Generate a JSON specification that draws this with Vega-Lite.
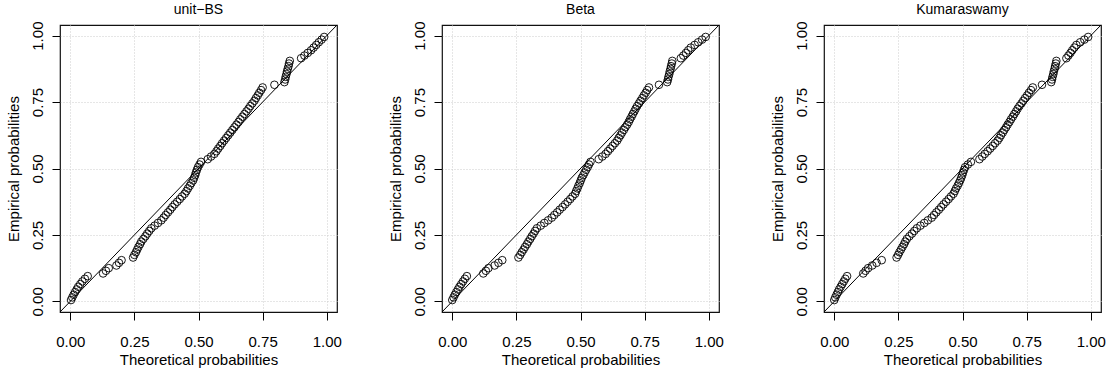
{
  "$schema": "https://vega.github.io/schema/vega-lite/v6.json",
  "background": "white",
  "padding": {"left": 5, "top": 2, "right": 5, "bottom": 5},
  "bounds": "flush",
  "spacing": 105,
  "datasets": {
    "diag": [{"x": -0.04, "y": -0.04, "x2": 1.04, "y2": 1.04}],
    "pp": [
      {"m":"u","t":0.003,"e":0.005},{"m":"u","t":0.008,"e":0.015},{"m":"u","t":0.013,"e":0.025},{"m":"u","t":0.019,"e":0.035},{"m":"u","t":0.025,"e":0.045},
      {"m":"u","t":0.031,"e":0.055},{"m":"u","t":0.039,"e":0.065},{"m":"u","t":0.047,"e":0.075},{"m":"u","t":0.057,"e":0.085},{"m":"u","t":0.068,"e":0.095},
      {"m":"u","t":0.128,"e":0.105},{"m":"u","t":0.139,"e":0.115},{"m":"u","t":0.150,"e":0.125},{"m":"u","t":0.180,"e":0.135},{"m":"u","t":0.190,"e":0.145},
      {"m":"u","t":0.200,"e":0.155},{"m":"u","t":0.245,"e":0.165},{"m":"u","t":0.250,"e":0.175},{"m":"u","t":0.256,"e":0.185},{"m":"u","t":0.261,"e":0.195},
      {"m":"u","t":0.266,"e":0.205},{"m":"u","t":0.272,"e":0.215},{"m":"u","t":0.277,"e":0.225},{"m":"u","t":0.285,"e":0.235},{"m":"u","t":0.293,"e":0.245},
      {"m":"u","t":0.300,"e":0.255},{"m":"u","t":0.308,"e":0.265},{"m":"u","t":0.316,"e":0.275},{"m":"u","t":0.329,"e":0.285},{"m":"u","t":0.342,"e":0.295},
      {"m":"u","t":0.355,"e":0.305},{"m":"u","t":0.364,"e":0.315},{"m":"u","t":0.372,"e":0.325},{"m":"u","t":0.381,"e":0.335},{"m":"u","t":0.390,"e":0.345},
      {"m":"u","t":0.398,"e":0.355},{"m":"u","t":0.407,"e":0.365},{"m":"u","t":0.417,"e":0.375},{"m":"u","t":0.427,"e":0.385},{"m":"u","t":0.436,"e":0.395},
      {"m":"u","t":0.446,"e":0.405},{"m":"u","t":0.453,"e":0.415},{"m":"u","t":0.459,"e":0.425},{"m":"u","t":0.466,"e":0.435},{"m":"u","t":0.472,"e":0.445},
      {"m":"u","t":0.479,"e":0.455},{"m":"u","t":0.483,"e":0.465},{"m":"u","t":0.487,"e":0.475},{"m":"u","t":0.490,"e":0.485},{"m":"u","t":0.494,"e":0.495},
      {"m":"u","t":0.498,"e":0.505},{"m":"u","t":0.504,"e":0.515},{"m":"u","t":0.510,"e":0.525},{"m":"u","t":0.536,"e":0.535},{"m":"u","t":0.549,"e":0.545},
      {"m":"u","t":0.562,"e":0.555},{"m":"u","t":0.570,"e":0.565},{"m":"u","t":0.577,"e":0.575},{"m":"u","t":0.585,"e":0.585},{"m":"u","t":0.592,"e":0.595},
      {"m":"u","t":0.600,"e":0.605},{"m":"u","t":0.608,"e":0.615},{"m":"u","t":0.616,"e":0.625},{"m":"u","t":0.624,"e":0.635},{"m":"u","t":0.632,"e":0.645},
      {"m":"u","t":0.640,"e":0.655},{"m":"u","t":0.648,"e":0.665},{"m":"u","t":0.656,"e":0.675},{"m":"u","t":0.663,"e":0.685},{"m":"u","t":0.671,"e":0.695},
      {"m":"u","t":0.679,"e":0.705},{"m":"u","t":0.687,"e":0.715},{"m":"u","t":0.695,"e":0.725},{"m":"u","t":0.702,"e":0.735},{"m":"u","t":0.710,"e":0.745},
      {"m":"u","t":0.718,"e":0.755},{"m":"u","t":0.724,"e":0.765},{"m":"u","t":0.731,"e":0.775},{"m":"u","t":0.737,"e":0.785},{"m":"u","t":0.744,"e":0.795},
      {"m":"u","t":0.750,"e":0.805},{"m":"u","t":0.796,"e":0.815},{"m":"u","t":0.835,"e":0.825},{"m":"u","t":0.838,"e":0.835},{"m":"u","t":0.840,"e":0.845},
      {"m":"u","t":0.843,"e":0.855},{"m":"u","t":0.845,"e":0.865},{"m":"u","t":0.848,"e":0.875},{"m":"u","t":0.851,"e":0.885},{"m":"u","t":0.853,"e":0.895},
      {"m":"u","t":0.856,"e":0.905},{"m":"u","t":0.900,"e":0.915},{"m":"u","t":0.913,"e":0.925},{"m":"u","t":0.926,"e":0.935},{"m":"u","t":0.939,"e":0.945},
      {"m":"u","t":0.949,"e":0.955},{"m":"u","t":0.959,"e":0.965},{"m":"u","t":0.969,"e":0.975},{"m":"u","t":0.980,"e":0.985},{"m":"u","t":0.990,"e":0.995},

      {"m":"b","t":0.000,"e":0.005},{"m":"b","t":0.005,"e":0.015},{"m":"b","t":0.010,"e":0.025},{"m":"b","t":0.016,"e":0.035},{"m":"b","t":0.022,"e":0.045},
      {"m":"b","t":0.028,"e":0.055},{"m":"b","t":0.035,"e":0.065},{"m":"b","t":0.042,"e":0.075},{"m":"b","t":0.049,"e":0.085},{"m":"b","t":0.057,"e":0.095},
      {"m":"b","t":0.121,"e":0.105},{"m":"b","t":0.131,"e":0.115},{"m":"b","t":0.141,"e":0.125},{"m":"b","t":0.165,"e":0.135},{"m":"b","t":0.180,"e":0.145},
      {"m":"b","t":0.195,"e":0.155},{"m":"b","t":0.258,"e":0.165},{"m":"b","t":0.265,"e":0.175},{"m":"b","t":0.271,"e":0.185},{"m":"b","t":0.278,"e":0.195},
      {"m":"b","t":0.284,"e":0.205},{"m":"b","t":0.291,"e":0.215},{"m":"b","t":0.297,"e":0.225},{"m":"b","t":0.304,"e":0.235},{"m":"b","t":0.310,"e":0.245},
      {"m":"b","t":0.317,"e":0.255},{"m":"b","t":0.323,"e":0.265},{"m":"b","t":0.330,"e":0.275},{"m":"b","t":0.345,"e":0.285},{"m":"b","t":0.359,"e":0.295},
      {"m":"b","t":0.374,"e":0.305},{"m":"b","t":0.388,"e":0.315},{"m":"b","t":0.398,"e":0.325},{"m":"b","t":0.409,"e":0.335},{"m":"b","t":0.419,"e":0.345},
      {"m":"b","t":0.430,"e":0.355},{"m":"b","t":0.440,"e":0.365},{"m":"b","t":0.450,"e":0.375},{"m":"b","t":0.460,"e":0.385},{"m":"b","t":0.469,"e":0.395},
      {"m":"b","t":0.479,"e":0.405},{"m":"b","t":0.483,"e":0.415},{"m":"b","t":0.488,"e":0.425},{"m":"b","t":0.492,"e":0.435},{"m":"b","t":0.497,"e":0.445},
      {"m":"b","t":0.501,"e":0.455},{"m":"b","t":0.505,"e":0.465},{"m":"b","t":0.511,"e":0.475},{"m":"b","t":0.516,"e":0.485},{"m":"b","t":0.522,"e":0.495},
      {"m":"b","t":0.528,"e":0.505},{"m":"b","t":0.533,"e":0.515},{"m":"b","t":0.539,"e":0.525},{"m":"b","t":0.571,"e":0.535},{"m":"b","t":0.585,"e":0.545},
      {"m":"b","t":0.598,"e":0.555},{"m":"b","t":0.607,"e":0.565},{"m":"b","t":0.616,"e":0.575},{"m":"b","t":0.625,"e":0.585},{"m":"b","t":0.634,"e":0.595},
      {"m":"b","t":0.643,"e":0.605},{"m":"b","t":0.649,"e":0.615},{"m":"b","t":0.656,"e":0.625},{"m":"b","t":0.662,"e":0.635},{"m":"b","t":0.669,"e":0.645},
      {"m":"b","t":0.675,"e":0.655},{"m":"b","t":0.682,"e":0.665},{"m":"b","t":0.688,"e":0.675},{"m":"b","t":0.693,"e":0.685},{"m":"b","t":0.699,"e":0.695},
      {"m":"b","t":0.704,"e":0.705},{"m":"b","t":0.710,"e":0.715},{"m":"b","t":0.715,"e":0.725},{"m":"b","t":0.721,"e":0.735},{"m":"b","t":0.728,"e":0.745},
      {"m":"b","t":0.734,"e":0.755},{"m":"b","t":0.741,"e":0.765},{"m":"b","t":0.747,"e":0.775},{"m":"b","t":0.754,"e":0.785},{"m":"b","t":0.760,"e":0.795},
      {"m":"b","t":0.767,"e":0.805},{"m":"b","t":0.806,"e":0.815},{"m":"b","t":0.838,"e":0.825},{"m":"b","t":0.841,"e":0.835},{"m":"b","t":0.843,"e":0.845},
      {"m":"b","t":0.846,"e":0.855},{"m":"b","t":0.848,"e":0.865},{"m":"b","t":0.851,"e":0.875},{"m":"b","t":0.853,"e":0.885},{"m":"b","t":0.856,"e":0.895},
      {"m":"b","t":0.858,"e":0.905},{"m":"b","t":0.891,"e":0.915},{"m":"b","t":0.901,"e":0.925},{"m":"b","t":0.911,"e":0.935},{"m":"b","t":0.920,"e":0.945},
      {"m":"b","t":0.930,"e":0.955},{"m":"b","t":0.945,"e":0.965},{"m":"b","t":0.959,"e":0.975},{"m":"b","t":0.974,"e":0.985},{"m":"b","t":0.988,"e":0.995},

      {"m":"k","t":0.000,"e":0.005},{"m":"k","t":0.004,"e":0.015},{"m":"k","t":0.009,"e":0.025},{"m":"k","t":0.014,"e":0.035},{"m":"k","t":0.019,"e":0.045},
      {"m":"k","t":0.025,"e":0.055},{"m":"k","t":0.031,"e":0.065},{"m":"k","t":0.037,"e":0.075},{"m":"k","t":0.043,"e":0.085},{"m":"k","t":0.050,"e":0.095},
      {"m":"k","t":0.113,"e":0.105},{"m":"k","t":0.122,"e":0.115},{"m":"k","t":0.132,"e":0.125},{"m":"k","t":0.148,"e":0.135},{"m":"k","t":0.165,"e":0.145},
      {"m":"k","t":0.185,"e":0.155},{"m":"k","t":0.243,"e":0.165},{"m":"k","t":0.249,"e":0.175},{"m":"k","t":0.254,"e":0.185},{"m":"k","t":0.260,"e":0.195},
      {"m":"k","t":0.266,"e":0.205},{"m":"k","t":0.272,"e":0.215},{"m":"k","t":0.277,"e":0.225},{"m":"k","t":0.283,"e":0.235},{"m":"k","t":0.293,"e":0.245},
      {"m":"k","t":0.303,"e":0.255},{"m":"k","t":0.312,"e":0.265},{"m":"k","t":0.322,"e":0.275},{"m":"k","t":0.336,"e":0.285},{"m":"k","t":0.351,"e":0.295},
      {"m":"k","t":0.365,"e":0.305},{"m":"k","t":0.380,"e":0.315},{"m":"k","t":0.389,"e":0.325},{"m":"k","t":0.398,"e":0.335},{"m":"k","t":0.408,"e":0.345},
      {"m":"k","t":0.417,"e":0.355},{"m":"k","t":0.426,"e":0.365},{"m":"k","t":0.436,"e":0.375},{"m":"k","t":0.446,"e":0.385},{"m":"k","t":0.455,"e":0.395},
      {"m":"k","t":0.465,"e":0.405},{"m":"k","t":0.470,"e":0.415},{"m":"k","t":0.475,"e":0.425},{"m":"k","t":0.481,"e":0.435},{"m":"k","t":0.486,"e":0.445},
      {"m":"k","t":0.491,"e":0.455},{"m":"k","t":0.495,"e":0.465},{"m":"k","t":0.499,"e":0.475},{"m":"k","t":0.502,"e":0.485},{"m":"k","t":0.506,"e":0.495},
      {"m":"k","t":0.510,"e":0.505},{"m":"k","t":0.521,"e":0.515},{"m":"k","t":0.533,"e":0.525},{"m":"k","t":0.566,"e":0.535},{"m":"k","t":0.577,"e":0.545},
      {"m":"k","t":0.587,"e":0.555},{"m":"k","t":0.598,"e":0.565},{"m":"k","t":0.608,"e":0.575},{"m":"k","t":0.618,"e":0.585},{"m":"k","t":0.627,"e":0.595},
      {"m":"k","t":0.637,"e":0.605},{"m":"k","t":0.644,"e":0.615},{"m":"k","t":0.650,"e":0.625},{"m":"k","t":0.657,"e":0.635},{"m":"k","t":0.663,"e":0.645},
      {"m":"k","t":0.670,"e":0.655},{"m":"k","t":0.676,"e":0.665},{"m":"k","t":0.683,"e":0.675},{"m":"k","t":0.689,"e":0.685},{"m":"k","t":0.696,"e":0.695},
      {"m":"k","t":0.702,"e":0.705},{"m":"k","t":0.709,"e":0.715},{"m":"k","t":0.715,"e":0.725},{"m":"k","t":0.722,"e":0.735},{"m":"k","t":0.730,"e":0.745},
      {"m":"k","t":0.737,"e":0.755},{"m":"k","t":0.744,"e":0.765},{"m":"k","t":0.752,"e":0.775},{"m":"k","t":0.759,"e":0.785},{"m":"k","t":0.767,"e":0.795},
      {"m":"k","t":0.774,"e":0.805},{"m":"k","t":0.810,"e":0.815},{"m":"k","t":0.846,"e":0.825},{"m":"k","t":0.849,"e":0.835},{"m":"k","t":0.851,"e":0.845},
      {"m":"k","t":0.854,"e":0.855},{"m":"k","t":0.856,"e":0.865},{"m":"k","t":0.859,"e":0.875},{"m":"k","t":0.861,"e":0.885},{"m":"k","t":0.864,"e":0.895},
      {"m":"k","t":0.866,"e":0.905},{"m":"k","t":0.905,"e":0.915},{"m":"k","t":0.913,"e":0.925},{"m":"k","t":0.921,"e":0.935},{"m":"k","t":0.928,"e":0.945},
      {"m":"k","t":0.936,"e":0.955},{"m":"k","t":0.944,"e":0.965},{"m":"k","t":0.959,"e":0.975},{"m":"k","t":0.975,"e":0.985},{"m":"k","t":0.990,"e":0.995}
    ]
  },
  "hconcat": [
    {
      "title": {"text": "unit−BS"},
      "width": 277, "height": 287,
      "layer": [
        {
          "data": {"name": "diag"},
          "mark": {"type": "rule", "color": "black", "strokeWidth": 1, "clip": true},
          "encoding": {
            "x": {"field": "x", "type": "quantitative", "scale": {"domain": [-0.04, 1.04], "nice": false, "zero": false}},
            "y": {"field": "y", "type": "quantitative", "scale": {"domain": [-0.04, 1.04], "nice": false, "zero": false}},
            "x2": {"field": "x2"}, "y2": {"field": "y2"}
          }
        },
        {
          "data": {"name": "pp"},
          "transform": [{"filter": {"field": "m", "equal": "u"}}],
          "mark": {"type": "point", "shape": "circle", "filled": false, "color": "black", "size": 58, "strokeWidth": 0.9, "opacity": 1},
          "encoding": {
            "x": {"field": "t", "type": "quantitative", "title": "Theoretical probabilities", "scale": {"domain": [-0.04, 1.04], "nice": false, "zero": false}, "axis": {"values": [0, 0.25, 0.5, 0.75, 1], "format": ".2f"}},
            "y": {"field": "e", "type": "quantitative", "title": "Empirical probabilities", "scale": {"domain": [-0.04, 1.04], "nice": false, "zero": false}, "axis": {"values": [0, 0.25, 0.5, 0.75, 1], "format": ".2f"}}
          }
        }
      ]
    },
    {
      "title": {"text": "Beta"},
      "width": 277, "height": 287,
      "layer": [
        {
          "data": {"name": "diag"},
          "mark": {"type": "rule", "color": "black", "strokeWidth": 1, "clip": true},
          "encoding": {
            "x": {"field": "x", "type": "quantitative", "scale": {"domain": [-0.04, 1.04], "nice": false, "zero": false}},
            "y": {"field": "y", "type": "quantitative", "scale": {"domain": [-0.04, 1.04], "nice": false, "zero": false}},
            "x2": {"field": "x2"}, "y2": {"field": "y2"}
          }
        },
        {
          "data": {"name": "pp"},
          "transform": [{"filter": {"field": "m", "equal": "b"}}],
          "mark": {"type": "point", "shape": "circle", "filled": false, "color": "black", "size": 58, "strokeWidth": 0.9, "opacity": 1},
          "encoding": {
            "x": {"field": "t", "type": "quantitative", "title": "Theoretical probabilities", "scale": {"domain": [-0.04, 1.04], "nice": false, "zero": false}, "axis": {"values": [0, 0.25, 0.5, 0.75, 1], "format": ".2f"}},
            "y": {"field": "e", "type": "quantitative", "title": "Empirical probabilities", "scale": {"domain": [-0.04, 1.04], "nice": false, "zero": false}, "axis": {"values": [0, 0.25, 0.5, 0.75, 1], "format": ".2f"}}
          }
        }
      ]
    },
    {
      "title": {"text": "Kumaraswamy"},
      "width": 277, "height": 287,
      "layer": [
        {
          "data": {"name": "diag"},
          "mark": {"type": "rule", "color": "black", "strokeWidth": 1, "clip": true},
          "encoding": {
            "x": {"field": "x", "type": "quantitative", "scale": {"domain": [-0.04, 1.04], "nice": false, "zero": false}},
            "y": {"field": "y", "type": "quantitative", "scale": {"domain": [-0.04, 1.04], "nice": false, "zero": false}},
            "x2": {"field": "x2"}, "y2": {"field": "y2"}
          }
        },
        {
          "data": {"name": "pp"},
          "transform": [{"filter": {"field": "m", "equal": "k"}}],
          "mark": {"type": "point", "shape": "circle", "filled": false, "color": "black", "size": 58, "strokeWidth": 0.9, "opacity": 1},
          "encoding": {
            "x": {"field": "t", "type": "quantitative", "title": "Theoretical probabilities", "scale": {"domain": [-0.04, 1.04], "nice": false, "zero": false}, "axis": {"values": [0, 0.25, 0.5, 0.75, 1], "format": ".2f"}},
            "y": {"field": "e", "type": "quantitative", "title": "Empirical probabilities", "scale": {"domain": [-0.04, 1.04], "nice": false, "zero": false}, "axis": {"values": [0, 0.25, 0.5, 0.75, 1], "format": ".2f"}}
          }
        }
      ]
    }
  ],
  "config": {
    "font": "Liberation Sans",
    "view": {"stroke": "#111111", "strokeWidth": 1.2},
    "axis": {
      "domain": false, "grid": true, "gridColor": "#cccccc", "gridDash": [1, 2], "gridWidth": 1,
      "ticks": true, "tickColor": "black", "tickSize": 8, "tickWidth": 1,
      "labelFont": "Liberation Sans", "labelFontSize": 15, "labelColor": "black",
      "titleFont": "Liberation Sans", "titleFontSize": 15, "titleFontWeight": "normal", "titleColor": "black",
      "labelFlush": false, "labelOverlap": false
    },
    "axisX": {"labelPadding": 14, "titlePadding": 3},
    "axisY": {"labelAngle": -90, "labelAlign": "center", "labelBaseline": "alphabetic", "labelPadding": 10, "titlePadding": 9},
    "title": {"font": "Liberation Sans", "fontSize": 14, "fontWeight": "normal", "color": "black", "offset": 4, "baseline": "alphabetic"}
  }
}
